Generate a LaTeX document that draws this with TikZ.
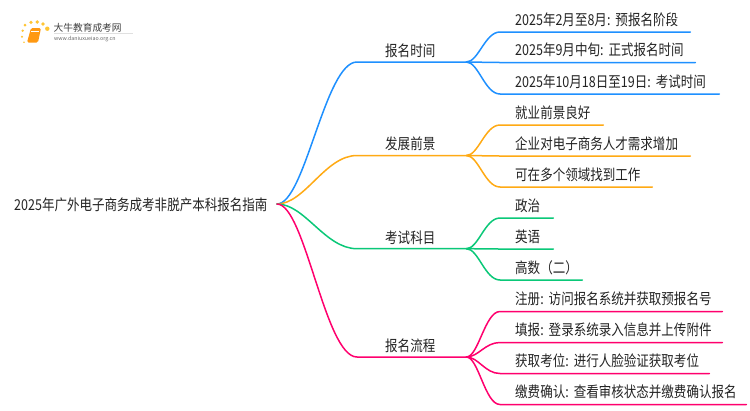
\documentclass[tikz,border=0pt]{standalone}
\usepackage{fontspec}
\setmainfont[FakeStretch=0.835]{Noto Sans CJK SC}
\newfontfamily\logofont{Noto Sans CJK SC}
\definecolor{cblue}{RGB}{30,144,255}
\definecolor{corange}{RGB}{255,170,20}
\definecolor{cgreen}{RGB}{10,200,120}
\definecolor{cpink}{RGB}{255,0,110}
\definecolor{ctext}{RGB}{35,35,35}
\frenchspacing
\tikzset{
  x=1pt,y=-1pt,
  wire/.style={line width=1.5pt,line cap=round},
  rootbox/.style={anchor=base west,inner sep=0pt,text=ctext,font=\fontsize{15}{18}\selectfont},
  linebox/.style={anchor=south west,inner xsep=0pt,inner ysep=0pt,text=ctext,align=left,
    text height=12pt,text depth=6.5pt,font=\fontsize{15}{18}\selectfont},
  topicbox/.style={linebox,text depth=5.5pt,text width=109pt},
  dot/.style={fill=corange!80!yellow,draw=none,opacity=.85},
}
\newcommand{\trunk}[2]{\draw[wire,#1] (rootp) .. controls ($(rootp)+(28,0)$) and ($(#2.south west)+(-32,0)$) .. (#2.south west) -- (#2.south east);}
\newcommand{\twig}[3]{\draw[wire,#1] (#2.south east) .. controls ($(#2.south east)+(12,0)$) and ($(#3.south west)+(-15,0)$) .. (#3.south west) -- (#3.south east);}
\usetikzlibrary{calc}
\begin{document}
\begin{tikzpicture}
\useasboundingbox (0,0) rectangle (750,410);
\fill[white] (0,0) rectangle (750,410);
% logo
\foreach \a/\b/\r in {25/25/1.5,31/22.3/1.8,37.3/22/1.9,43/24/1.9,47.3/28.7/2.2,22.7/30.7/1.3,22/36.7/1.1,24/42.3/.9}
  \fill[dot] (\a,\b) circle (\r);
\fill[corange!90!red,rounded corners=1.5pt] (31,28) -- (41,28) -- (38,42.5) -- (27,42.5) -- cycle;
\draw[white,line width=.5pt] (31,31) -- (39,31);
\draw[black!12,line width=.5pt] (54,33.3) -- (133,33.3);
\node[anchor=west,inner sep=0pt,text=black!75,font=\logofont\fontsize{9.7}{11}\selectfont] (logot) at (53.5,27.5) {大牛教育成考网};
\node[anchor=west,inner sep=0pt,text=black!60,font=\logofont\fontsize{5.3}{7}\selectfont] (logou) at (54,39) {www.daniuxueiao.org.cn};
% root
\node[rootbox] (root) at (14,210.5) {2025年广外电子商务成考非脱产本科报名指南};
\coordinate (rootp) at (277,204);
% level 1
\node[topicbox] (a) at (357,62) {\hspace*{28pt}报名时间};
\node[topicbox] (b) at (357,155.5) {\hspace*{28pt}发展前景};
\node[topicbox] (c) at (357,248.7) {\hspace*{28pt}考试科目};
\node[topicbox] (d) at (357,357) {\hspace*{28pt}报名流程};
% leaves
\node[linebox,text width=190pt] (a1) at (500,32) {\hspace*{15pt}2025年2月至8月: 预报名阶段};
\node[linebox,text width=195pt] (a2) at (500,62.5) {\hspace*{15pt}2025年9月中旬: 正式报名时间};
\node[linebox,text width=219pt] (a3) at (500,94) {\hspace*{15pt}2025年10月18日至19日: 考试时间};
\node[linebox,text width=103pt] (b1) at (500,125) {\hspace*{15pt}就业前景良好};
\node[linebox,text width=190pt] (b2) at (500,156) {\hspace*{15pt}企业对电子商务人才需求增加};
\node[linebox,text width=152pt] (b3) at (500,187) {\hspace*{15pt}可在多个领域找到工作};
\node[linebox,text width=53pt] (c1) at (500,218) {\hspace*{15pt}政治};
\node[linebox,text width=53pt] (c2) at (500,249) {\hspace*{15pt}英语};
\node[linebox,text width=82pt] (c3) at (500,280) {\hspace*{15pt}高数（二）};
\node[linebox,text width=222pt] (d1) at (500,311.5) {\hspace*{15pt}注册: 访问报名系统并获取预报名号};
\node[linebox,text width=222pt] (d2) at (500,342.5) {\hspace*{15pt}填报: 登录系统录入信息并上传附件};
\node[linebox,text width=209pt] (d3) at (500,373.5) {\hspace*{15pt}获取考位: 进行人脸验证获取考位};
\node[linebox,text width=246pt] (d4) at (500,404.5) {\hspace*{15pt}缴费确认: 查看审核状态并缴费确认报名};
% connectors
\trunk{cblue}{a}
\trunk{corange}{b}
\trunk{cgreen}{c}
\trunk{cpink}{d}
\twig{cblue}{a}{a1}\twig{cblue}{a}{a2}\twig{cblue}{a}{a3}
\twig{corange}{b}{b1}\twig{corange}{b}{b2}\twig{corange}{b}{b3}
\twig{cgreen}{c}{c1}\twig{cgreen}{c}{c2}\twig{cgreen}{c}{c3}
\twig{cpink}{d}{d1}\twig{cpink}{d}{d2}\twig{cpink}{d}{d3}\twig{cpink}{d}{d4}
\end{tikzpicture}
\end{document}
